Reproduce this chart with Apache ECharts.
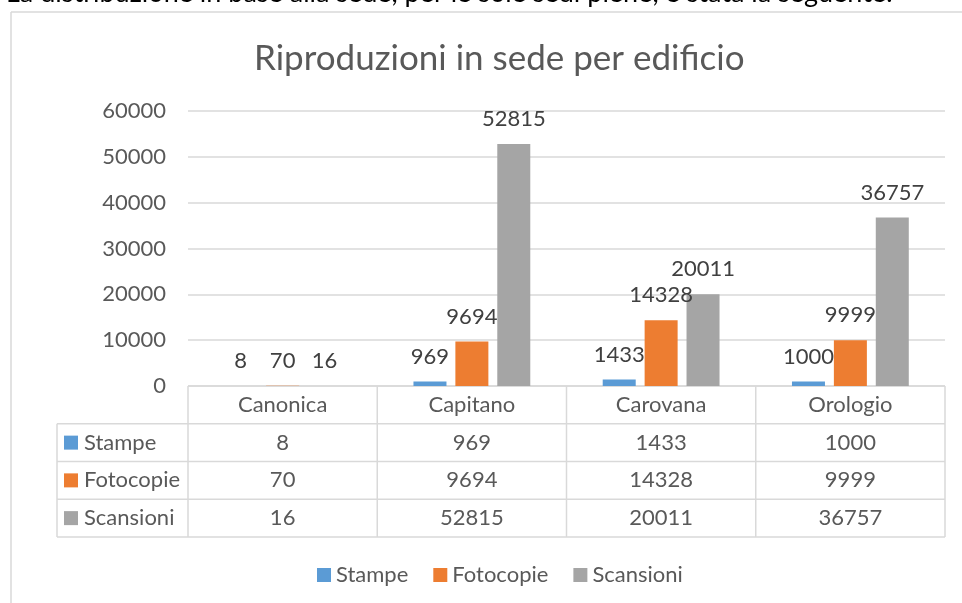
<!DOCTYPE html>
<html>
<head>
<meta charset="utf-8">
<script src="https://cdn.jsdelivr.net/npm/echarts@6/dist/echarts.min.js"></script>
<style>
  html, body { margin: 0; padding: 0; background: #fff; }
  #chart1 { width: 962px; height: 603px; }
</style>
</head>
<body>
<div id="chart1"></div>
<script>
// dati del grafico
var categories = ['Canonica', 'Capitano', 'Carovana', 'Orologio'];
var stampe = [8, 969, 1433, 1000];
var fotocopie = [70, 9694, 14328, 9999];
var scansioni = [16, 52815, 20011, 36757];
var seriesNames = ['Stampe', 'Fotocopie', 'Scansioni'];
var colors = ['#5b9bd5', '#ed7d31', '#a5a5a5'];

var font = 'Lato, "Open Sans", sans-serif';
var lineCol = '#d9d9d9';
var textCol = '#595959';
var fs = 22;

// area del grafico e tabella dati
var plotL = 188, plotR = 945, plotT = 111, plotB = 386;
var tabL = 57, rowH = 37.75;
var colW = (plotR - plotL) / categories.length;

var myChart1 = echarts.init(document.getElementById('chart1'));

var graphic = [];
function line(x1, y1, x2, y2) {
    graphic.push({ type: 'line', shape: { x1: x1, y1: y1, x2: x2, y2: y2 },
        style: { stroke: lineCol, lineWidth: 1.5 }, silent: true });
}
function txt(x, y, s, align) {
    graphic.push({ type: 'text', x: x, y: y,
        style: { text: s, fill: textCol, font: fs + 'px ' + font, textAlign: align || 'center', textVerticalAlign: 'middle' } });
}

// cornice
line(11, 12, 962, 12);
line(11, 12, 11, 603);
// testo sopra (tagliato)
graphic.push({ type: 'text', x: 6, y: 7,
    style: { text: 'La distribuzione in base alla sede, per le sole sedi piene, è stata la seguente:', fill: '#000', font: '27px ' + font, verticalAlign: 'bottom', textVerticalAlign: 'bottom' } });

// tabella
line(plotL, plotB, plotR, plotB);
for (var r = 1; r <= 4; r++) line(tabL, plotB + r * rowH, plotR, plotB + r * rowH);
line(tabL, plotB + rowH, tabL, plotB + 4 * rowH);
for (var c = 0; c <= categories.length; c++) line(plotL + c * colW, plotB, plotL + c * colW, plotB + 4 * rowH);

var rows = [stampe, fotocopie, scansioni];
categories.forEach(function (name, i) {
    var cx = plotL + (i + 0.5) * colW;
    txt(cx, plotB + rowH / 2, name);
    rows.forEach(function (arr, j) {
        txt(cx, plotB + (j + 1.5) * rowH, String(arr[i]));
    });
});
seriesNames.forEach(function (name, j) {
    var cy = plotB + (j + 1.5) * rowH;
    graphic.push({ type: 'rect', shape: { x: 64, y: cy - 7, width: 14, height: 14 }, style: { fill: colors[j] } });
    txt(84, cy, name, 'left');
});

function bar(name, data, color) {
    return {
        name: name,
        type: 'bar',
        data: data,
        barWidth: 33,
        barGap: '27%',
        itemStyle: { color: color },
        label: { show: true, position: 'top', distance: 14, color: '#404040', fontSize: fs, fontFamily: font }
    };
}

var option = {
    title: {
        text: 'Riproduzioni in sede per edificio',
        left: 249,
        top: 36,
        textStyle: { color: textCol, fontSize: 35, fontWeight: 'normal', fontFamily: font }
    },
    color: colors,
    legend: {
        data: seriesNames,
        left: 312,
        top: 559,
        icon: 'rect',
        itemWidth: 14,
        itemHeight: 14,
        itemGap: 25,
        textStyle: { color: textCol, fontSize: fs, fontFamily: font }
    },
    grid: { left: plotL, right: 962 - plotR, top: plotT, bottom: 603 - plotB },
    xAxis: {
        type: 'category',
        data: categories,
        axisLine: { show: false },
        axisTick: { show: false },
        axisLabel: { show: false }
    },
    yAxis: {
        type: 'value',
        min: 0,
        max: 60000,
        interval: 10000,
        axisLabel: { color: textCol, fontSize: fs, fontFamily: font, margin: 22, formatter: function (v) { return String(v); } },
        splitLine: { lineStyle: { color: lineCol, width: 1.5 } }
    },
    graphic: graphic,
    series: [
        bar(seriesNames[0], stampe, colors[0]),
        bar(seriesNames[1], fotocopie, colors[1]),
        bar(seriesNames[2], scansioni, colors[2])
    ]
};
myChart1.setOption(option);
</script>
</body>
</html>
